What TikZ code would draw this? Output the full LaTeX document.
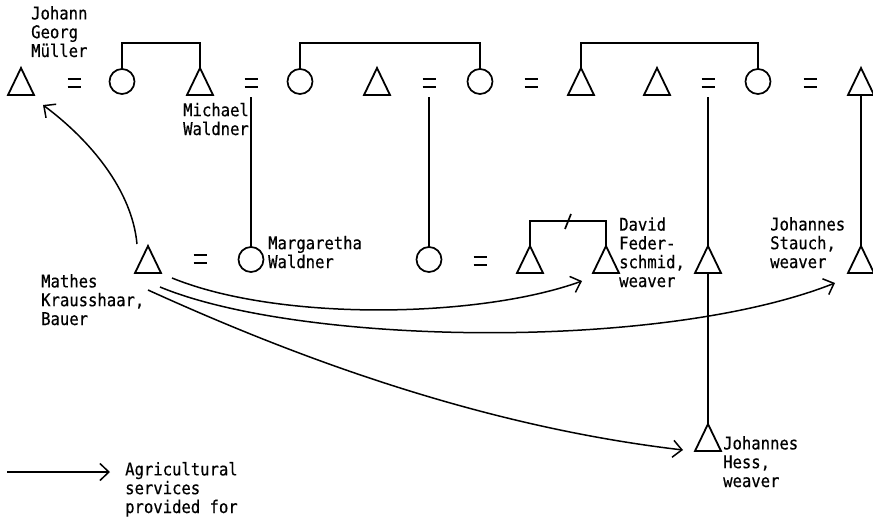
\documentclass[tikz,border=0pt]{standalone}
\usepackage{fontspec}
\newfontfamily\labelfont[FakeStretch=0.89,FakeBold=0.5]{DejaVu Sans Mono}
\usetikzlibrary{arrows.meta}

\begin{document}
\begin{tikzpicture}[x=1pt,y=-1pt,
  kin/.style={line width=1.7pt},
  male/.style={minimum width=26pt,minimum height=27pt,inner sep=0pt,outer sep=0pt},
  female/.style={circle,draw,line width=1.7pt,minimum size=25pt,inner sep=0pt,outer sep=0pt},
  wed/.style={minimum width=13pt,minimum height=8pt,inner sep=0pt,outer sep=0pt},
  caption/.style={font=\labelfont\fontsize{17.5}{18.8}\selectfont,align=left,anchor=base west,inner sep=0pt},
  service/.style={line width=1.5pt,-{Straight Barb[length=9pt,width=17pt]}}]

\useasboundingbox (0,0) rectangle (873,519);

% --- upper generation ---
\node[male]   (mu) at (21,81.5)  {};
\node[wed]    (m1) at (74,83)    {};
\node[female] (c1) at (122,81.5) {};
\node[male]   (mi) at (200,81.5) {};
\node[wed]    (m2) at (251,83)   {};
\node[female] (c2) at (300,81.5) {};
\node[male]   (a3) at (377,81.5) {};
\node[wed]    (m3) at (429,83)   {};
\node[female] (c3) at (480,81.5) {};
\node[wed]    (m4) at (531,83)   {};
\node[male]   (a4) at (581,81.5) {};
\node[male]   (a5) at (657,81.5) {};
\node[wed]    (m5) at (708,83)   {};
\node[female] (c4) at (758,81.5) {};
\node[wed]    (m6) at (810,83)   {};
\node[male]   (a6) at (861,81.5) {};

% --- lower generation ---
\node[male]   (ma) at (148,259.5) {};
\node[wed]    (m7) at (200,259)   {};
\node[female] (mw) at (251,259.5) {};
\node[female] (c6) at (429,259.5) {};
\node[wed]    (m8) at (480,261)   {};
\node[male]   (d1) at (530,259.5) {};
\node[male]   (df) at (606,259.5) {};
\node[male]   (t5) at (708,259.5) {};
\node[male]   (js) at (861,259.5) {};
\node[male]   (he) at (708,437.5) {};

% triangles for the men
\foreach \p in {mu,mi,a3,a4,a5,a6,ma,d1,df,t5,js,he}
  \draw[kin,line width=1.8pt] (\p.south west) -- (\p.north) -- (\p.south east) -- cycle;

% marriage signs
\foreach \p in {m1,m2,m3,m4,m5,m6,m7,m8}
  \draw[line width=2pt] (\p.north west) -- (\p.north east) (\p.south west) -- (\p.south east);

% sibling bars
\coordinate (bar) at (0,43);
\coordinate (hbar) at (0,221);
\draw[kin] (c1.north) -- (c1.north |- bar) -- (mi.north |- bar) -- (mi.north);
\draw[kin] (c2.north) -- (c2.north |- bar) -- (c3.north |- bar) -- (c3.north);
\draw[kin] (a4.north) -- (a4.north |- bar) -- (c4.north |- bar) -- (c4.north);
\draw[kin] (d1.north) -- (d1.north |- hbar) -- (df.north |- hbar) -- (df.north);
\coordinate (cut) at (568,221.5);
\draw[kin] (cut) +(-3,7.5) -- +(3,-7.5);

% descent lines
\draw[kin] ([yshift=-10pt]m2.south) -- (mw.north);
\draw[kin] ([yshift=-10pt]m3.south) -- (c6.north);
\draw[kin] ([yshift=-10pt]m5.south) -- (t5.north);
\draw[kin] (t5.south) -- (he.north);
\draw[kin] (js.north) -- (a6.south);

% agricultural services
\draw[service] ([shift={(2pt,2pt)}]ma.north west) .. controls (132,190) and (90,140) .. ([shift={(9pt,-10pt)}]mu.south east);
\draw[service] ([shift={(11pt,-5pt)}]ma.south east) .. controls (280,322) and (480,318) .. ([shift={(-11pt,-8pt)}]df.south west);
\draw[service] ([shift={(-1pt,-14pt)}]ma.south east) .. controls (300,345) and (660,352) .. ([shift={(-13pt,-10pt)}]js.south west);
\draw[service] ([shift={(0pt,-17pt)}]ma.south) .. controls (280,350) and (470,425) .. ([shift={(-12pt,1pt)}]he.south west);

% legend
\coordinate (lg1) at (7,472);
\coordinate (lg2) at (110,472);
\draw[service] (lg1) -- (lg2);

% names (each placed by the baseline of its last line)
\node[caption] (tmu) at (31,57)   {Johann\\Georg\\Müller};
\node[caption] (tmi) at (183,135) {Michael\\Waldner};
\node[caption] (tmw) at (268,268) {Margaretha\\Waldner};
\node[caption] (tma) at (41,325)  {Mathes\\Krausshaar,\\Bauer};
\node[caption] (tdf) at (619,287) {David\\Feder-\\schmid,\\weaver};
\node[caption] (tjs) at (770,268) {Johannes\\Stauch,\\weaver};
\node[caption] (the) at (723,487) {Johannes\\Hess,\\weaver};
\node[caption] (tlg) at (125,513) {Agricultural\\services\\provided for};

\end{tikzpicture}
\end{document}
